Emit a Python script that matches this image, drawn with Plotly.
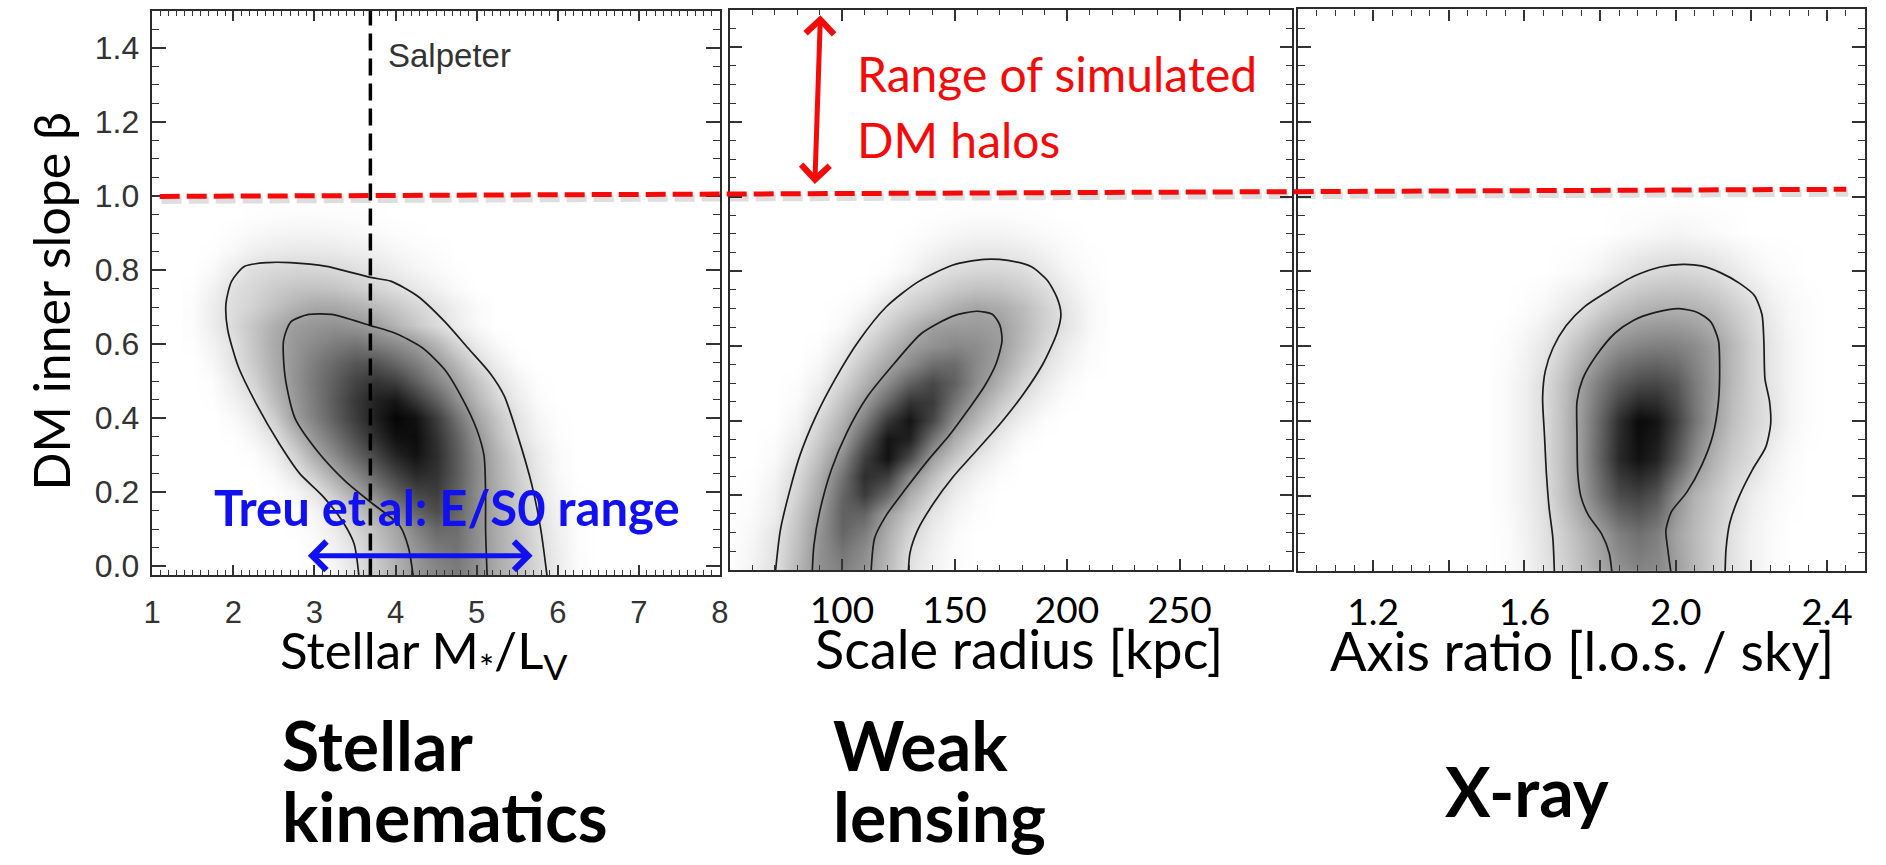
import plotly.graph_objects as go

W, H = 1886, 865

# ---------------- Stellar kinematics panel ----------------
ml_cols = [1.5, 1.75, 2.0, 2.25, 2.5, 2.75, 3.0, 3.25, 3.5, 3.75, 4.0, 4.25,
           4.5, 4.75, 5.0, 5.25, 5.5, 5.75, 6.0, 6.25, 6.5]
fine_rows = [-0.05, 0.0, 0.05, 0.1, 0.15, 0.2, 0.25, 0.3, 0.35, 0.4, 0.45, 0.5,
             0.55, 0.6, 0.65, 0.7, 0.75, 0.8, 0.85, 0.9, 0.95, 1.0]
dens_ml = [
    [0, 0, 0, 0, 0, 0, 0.01, 0.04, 0.11, 0.205, 0.30, 0.40, 0.48, 0.52, 0.44, 0.33, 0.245, 0.155, 0.075, 0.015, 0],
    [0, 0, 0, 0, 0, 0, 0.01, 0.04, 0.11, 0.205, 0.30, 0.40, 0.48, 0.52, 0.44, 0.33, 0.245, 0.155, 0.075, 0.015, 0],
    [0, 0, 0, 0, 0, 0, 0.015, 0.05, 0.12, 0.22, 0.32, 0.42, 0.52, 0.55, 0.44, 0.33, 0.24, 0.145, 0.07, 0.01, 0],
    [0, 0, 0, 0, 0, 0.005, 0.025, 0.077, 0.16, 0.255, 0.35, 0.48, 0.59, 0.57, 0.44, 0.325, 0.23, 0.135, 0.06, 0.01, 0],
    [0, 0, 0, 0, 0, 0.01, 0.04, 0.11, 0.225, 0.345, 0.48, 0.61, 0.70, 0.60, 0.45, 0.32, 0.22, 0.12, 0.05, 0.01, 0],
    [0, 0, 0, 0, 0.005, 0.03, 0.105, 0.22, 0.35, 0.48, 0.62, 0.73, 0.76, 0.62, 0.45, 0.32, 0.205, 0.10, 0.035, 0.005, 0],
    [0, 0, 0, 0, 0.02, 0.10, 0.21, 0.34, 0.47, 0.61, 0.74, 0.84, 0.80, 0.64, 0.46, 0.31, 0.19, 0.09, 0.025, 0, 0],
    [0, 0, 0, 0.01, 0.06, 0.175, 0.33, 0.46, 0.60, 0.73, 0.86, 0.93, 0.82, 0.64, 0.45, 0.30, 0.175, 0.08, 0.02, 0, 0],
    [0, 0, 0.005, 0.04, 0.11, 0.27, 0.42, 0.55, 0.69, 0.82, 0.94, 0.95, 0.80, 0.62, 0.42, 0.26, 0.125, 0.05, 0.01, 0, 0],
    [0, 0, 0.02, 0.08, 0.19, 0.375, 0.50, 0.63, 0.76, 0.88, 0.98, 0.93, 0.76, 0.55, 0.36, 0.225, 0.11, 0.035, 0.005, 0, 0],
    [0, 0.005, 0.05, 0.115, 0.255, 0.40, 0.52, 0.65, 0.77, 0.87, 0.91, 0.78, 0.62, 0.44, 0.29, 0.165, 0.075, 0.015, 0, 0, 0],
    [0, 0.01, 0.08, 0.17, 0.30, 0.42, 0.53, 0.63, 0.73, 0.79, 0.75, 0.62, 0.48, 0.355, 0.23, 0.115, 0.045, 0.005, 0, 0, 0],
    [0, 0.03, 0.11, 0.21, 0.32, 0.415, 0.51, 0.59, 0.66, 0.67, 0.59, 0.50, 0.39, 0.275, 0.145, 0.065, 0.01, 0, 0, 0, 0],
    [0.005, 0.05, 0.12, 0.225, 0.33, 0.405, 0.46, 0.51, 0.54, 0.50, 0.45, 0.39, 0.285, 0.165, 0.075, 0.02, 0, 0, 0, 0, 0],
    [0.01, 0.07, 0.145, 0.23, 0.315, 0.385, 0.41, 0.43, 0.41, 0.38, 0.30, 0.22, 0.14, 0.07, 0.025, 0, 0, 0, 0, 0, 0],
    [0.01, 0.07, 0.135, 0.18, 0.24, 0.30, 0.34, 0.34, 0.31, 0.27, 0.22, 0.165, 0.11, 0.06, 0.02, 0, 0, 0, 0, 0, 0],
    [0.005, 0.05, 0.125, 0.16, 0.20, 0.23, 0.24, 0.23, 0.20, 0.17, 0.13, 0.09, 0.05, 0.02, 0, 0, 0, 0, 0, 0, 0],
    [0, 0.02, 0.08, 0.13, 0.15, 0.16, 0.16, 0.15, 0.125, 0.10, 0.07, 0.04, 0.02, 0.005, 0, 0, 0, 0, 0, 0, 0],
    [0, 0.005, 0.03, 0.06, 0.08, 0.09, 0.09, 0.085, 0.07, 0.055, 0.035, 0.02, 0.01, 0, 0, 0, 0, 0, 0, 0, 0],
    [0, 0, 0.01, 0.025, 0.035, 0.04, 0.04, 0.035, 0.03, 0.02, 0.01, 0.005, 0, 0, 0, 0, 0, 0, 0, 0, 0],
    [0, 0, 0, 0.005, 0.01, 0.015, 0.015, 0.01, 0.01, 0.005, 0, 0, 0, 0, 0, 0, 0, 0, 0, 0, 0],
    [0] * 21,
]
ml_outer_x = [3.55, 3.49, 3.35, 3.10, 2.82, 2.57, 2.28, 2.06, 1.93, 1.91, 1.98, 2.14, 2.42,
              2.70, 3.15, 3.69, 3.94, 4.27, 4.61, 4.89, 5.17, 5.34, 5.51, 5.68, 5.79, 5.87]
ml_outer_y = [-0.03, 0.06, 0.12, 0.19, 0.25, 0.33, 0.44, 0.54, 0.64, 0.71, 0.77, 0.81, 0.82,
              0.82, 0.81, 0.78, 0.77, 0.73, 0.66, 0.59, 0.52, 0.46, 0.35, 0.22, 0.10, -0.03]
ml_inner_x = [4.22, 4.16, 4.05, 3.71, 3.38, 3.04, 2.76, 2.64, 2.62, 2.71, 2.93, 3.21, 3.69,
              3.99, 4.33, 4.61, 4.83, 5.00, 5.09, 5.11, 5.11, 5.13]
ml_inner_y = [-0.03, 0.05, 0.11, 0.17, 0.23, 0.31, 0.40, 0.51, 0.61, 0.66, 0.68, 0.68, 0.65,
              0.63, 0.59, 0.53, 0.45, 0.37, 0.30, 0.20, 0.10, -0.03]
ml_ticks = [1, 2, 3, 4, 5, 6, 7, 8]
salpeter_ml = 3.69
treu_range = [2.90, 5.69]
treu_beta = 0.028

# ---------------- Weak lensing panel ----------------
rs_cols = [50, 60, 70, 80, 90, 100, 110, 120, 130, 140, 150, 160, 170, 180, 190, 200, 210, 220, 230]
dens_rs = [
    [0, 0.05, 0.12, 0.28, 0.43, 0.50, 0.42, 0.27, 0.115, 0.05, 0.01, 0, 0, 0, 0, 0, 0, 0, 0],
    [0, 0.05, 0.12, 0.28, 0.43, 0.50, 0.42, 0.27, 0.115, 0.05, 0.01, 0, 0, 0, 0, 0, 0, 0, 0],
    [0, 0.04, 0.11, 0.26, 0.43, 0.54, 0.45, 0.29, 0.13, 0.055, 0.015, 0, 0, 0, 0, 0, 0, 0, 0],
    [0, 0.03, 0.10, 0.24, 0.42, 0.60, 0.51, 0.32, 0.17, 0.075, 0.02, 0, 0, 0, 0, 0, 0, 0, 0],
    [0, 0.02, 0.07, 0.22, 0.39, 0.62, 0.60, 0.37, 0.23, 0.105, 0.04, 0.01, 0, 0, 0, 0, 0, 0, 0],
    [0, 0.01, 0.06, 0.18, 0.35, 0.60, 0.76, 0.58, 0.32, 0.17, 0.07, 0.02, 0, 0, 0, 0, 0, 0, 0],
    [0, 0.005, 0.04, 0.15, 0.31, 0.55, 0.82, 0.76, 0.45, 0.26, 0.115, 0.05, 0.01, 0, 0, 0, 0, 0, 0],
    [0, 0, 0.02, 0.11, 0.26, 0.46, 0.76, 0.93, 0.70, 0.37, 0.22, 0.10, 0.035, 0, 0, 0, 0, 0, 0],
    [0, 0, 0.01, 0.07, 0.21, 0.36, 0.64, 0.92, 0.87, 0.54, 0.32, 0.18, 0.08, 0.015, 0, 0, 0, 0, 0],
    [0, 0, 0, 0.04, 0.16, 0.30, 0.50, 0.78, 0.92, 0.72, 0.44, 0.28, 0.14, 0.06, 0.01, 0, 0, 0, 0],
    [0, 0, 0, 0.02, 0.10, 0.24, 0.39, 0.60, 0.80, 0.77, 0.54, 0.36, 0.22, 0.11, 0.04, 0.005, 0, 0, 0],
    [0, 0, 0, 0.01, 0.06, 0.17, 0.30, 0.45, 0.62, 0.72, 0.62, 0.44, 0.30, 0.17, 0.08, 0.02, 0, 0, 0],
    [0, 0, 0, 0, 0.03, 0.11, 0.23, 0.35, 0.45, 0.57, 0.58, 0.46, 0.36, 0.23, 0.115, 0.05, 0.01, 0, 0],
    [0, 0, 0, 0, 0.01, 0.07, 0.16, 0.27, 0.375, 0.43, 0.47, 0.45, 0.385, 0.27, 0.155, 0.07, 0.015, 0, 0],
    [0, 0, 0, 0, 0, 0.02, 0.10, 0.19, 0.285, 0.38, 0.395, 0.395, 0.38, 0.284, 0.18, 0.105, 0.03, 0, 0],
    [0, 0, 0, 0, 0, 0.01, 0.04, 0.125, 0.19, 0.25, 0.32, 0.36, 0.33, 0.27, 0.18, 0.10, 0.03, 0, 0],
    [0, 0, 0, 0, 0, 0, 0.01, 0.05, 0.125, 0.17, 0.22, 0.25, 0.24, 0.20, 0.14, 0.07, 0.02, 0, 0],
    [0, 0, 0, 0, 0, 0, 0, 0.01, 0.04, 0.10, 0.14, 0.16, 0.16, 0.14, 0.09, 0.04, 0.01, 0, 0],
    [0, 0, 0, 0, 0, 0, 0, 0, 0.02, 0.05, 0.08, 0.095, 0.095, 0.08, 0.05, 0.02, 0.005, 0, 0],
    [0, 0, 0, 0, 0, 0, 0, 0, 0.005, 0.02, 0.035, 0.045, 0.045, 0.035, 0.02, 0.01, 0, 0, 0],
    [0, 0, 0, 0, 0, 0, 0, 0, 0, 0.005, 0.01, 0.015, 0.015, 0.01, 0.005, 0, 0, 0, 0],
    [0] * 19,
]
rs_outer_x = [70.0, 72.6, 77.0, 81.4, 88.3, 97.0, 107.5, 119.7, 133.6, 149.3, 163.3, 173.7, 184.2,
              191.2, 195.5, 197.3, 195.5, 189.4, 180.7, 170.2, 159.8, 149.3, 140.6, 133.6, 130.2, 129.3]
rs_outer_y = [-0.03, 0.107, 0.218, 0.309, 0.411, 0.512, 0.614, 0.705, 0.771, 0.817, 0.832, 0.829, 0.812,
              0.776, 0.730, 0.685, 0.634, 0.553, 0.472, 0.391, 0.320, 0.249, 0.178, 0.107, 0.046, -0.03]
rs_inner_x = [86.6, 87.5, 90.1, 95.3, 102.3, 111.0, 123.2, 135.4, 149.3, 159.8, 166.8, 170.2, 171.1,
              168.5, 163.3, 156.3, 147.6, 138.9, 128.4, 119.7, 114.5, 112.7]
rs_inner_y = [-0.03, 0.066, 0.157, 0.269, 0.370, 0.462, 0.553, 0.634, 0.680, 0.693, 0.685, 0.655, 0.614,
              0.553, 0.492, 0.431, 0.360, 0.299, 0.218, 0.147, 0.086, -0.03]
rs_ticks = [50, 100, 150, 200, 250, 300]
rs_labels = ["", "100", "150", "200", "250", ""]
halo_arrow_top = (90.4, 1.486)
halo_arrow_bottom = (87.9, 1.03)

# ---------------- X-ray panel ----------------
q_cols = [1.50, 1.55, 1.60, 1.65, 1.70, 1.75, 1.80, 1.85, 1.90, 1.95, 2.00, 2.05, 2.10, 2.15,
          2.20, 2.25, 2.30, 2.35, 2.40, 2.45]
q_rows = [-0.1, 0.0, 0.1, 0.2, 0.3, 0.4, 0.5, 0.6, 0.7, 0.8, 0.9, 1.0]
dens_q = [
    [0, 0.01, 0.04, 0.10, 0.17, 0.25, 0.34, 0.42, 0.48, 0.46, 0.38, 0.28, 0.19, 0.11, 0.05, 0.02, 0, 0, 0, 0],
    [0, 0.01, 0.04, 0.10, 0.17, 0.25, 0.34, 0.42, 0.48, 0.46, 0.38, 0.28, 0.19, 0.11, 0.05, 0.02, 0, 0, 0, 0],
    [0, 0.01, 0.05, 0.11, 0.19, 0.28, 0.38, 0.50, 0.56, 0.50, 0.36, 0.27, 0.19, 0.11, 0.05, 0.02, 0, 0, 0, 0],
    [0, 0.02, 0.06, 0.12, 0.24, 0.38, 0.55, 0.70, 0.74, 0.66, 0.44, 0.30, 0.22, 0.14, 0.07, 0.03, 0.01, 0, 0, 0],
    [0, 0.02, 0.06, 0.13, 0.25, 0.40, 0.62, 0.84, 0.93, 0.86, 0.66, 0.45, 0.30, 0.20, 0.14, 0.06, 0.02, 0, 0, 0],
    [0, 0.02, 0.06, 0.13, 0.25, 0.40, 0.60, 0.82, 0.96, 0.92, 0.75, 0.55, 0.38, 0.25, 0.17, 0.11, 0.04, 0.01, 0, 0],
    [0, 0.02, 0.06, 0.13, 0.24, 0.38, 0.52, 0.64, 0.71, 0.72, 0.66, 0.52, 0.40, 0.27, 0.18, 0.10, 0.04, 0.01, 0, 0],
    [0, 0.01, 0.04, 0.09, 0.17, 0.26, 0.36, 0.44, 0.48, 0.50, 0.49, 0.45, 0.38, 0.28, 0.18, 0.10, 0.04, 0.01, 0, 0],
    [0, 0, 0.01, 0.03, 0.07, 0.12, 0.19, 0.25, 0.29, 0.31, 0.31, 0.30, 0.26, 0.20, 0.14, 0.07, 0.03, 0.01, 0, 0],
    [0, 0, 0, 0, 0.01, 0.02, 0.05, 0.09, 0.13, 0.15, 0.16, 0.15, 0.13, 0.09, 0.05, 0.02, 0.01, 0, 0, 0],
    [0, 0, 0, 0, 0, 0, 0, 0.01, 0.02, 0.03, 0.04, 0.03, 0.02, 0.01, 0, 0, 0, 0, 0, 0],
    [0] * 20,
]
q_outer_x = [1.680, 1.675, 1.665, 1.658, 1.653, 1.648, 1.655, 1.675, 1.710, 1.759, 1.819, 1.889,
             1.959, 2.019, 2.068, 2.118, 2.168, 2.208, 2.228, 2.233, 2.236, 2.248, 2.251, 2.238,
             2.203, 2.168, 2.143, 2.133, 2.130]
q_outer_y = [-0.03, 0.089, 0.170, 0.261, 0.362, 0.463, 0.534, 0.595, 0.655, 0.706, 0.746, 0.787,
             0.812, 0.819, 0.815, 0.797, 0.769, 0.736, 0.685, 0.615, 0.513, 0.453, 0.392, 0.331,
             0.271, 0.200, 0.129, 0.058, -0.03]
q_inner_x = [1.834, 1.824, 1.804, 1.769, 1.749, 1.741, 1.739, 1.739, 1.754, 1.789, 1.839, 1.889,
             1.944, 2.009, 2.059, 2.093, 2.113, 2.116, 2.113, 2.098, 2.068, 2.029, 1.989, 1.974,
             1.979, 1.991]
q_inner_y = [-0.03, 0.048, 0.099, 0.149, 0.200, 0.261, 0.362, 0.453, 0.513, 0.574, 0.635, 0.670,
             0.690, 0.701, 0.690, 0.665, 0.615, 0.554, 0.453, 0.362, 0.281, 0.210, 0.159, 0.109,
             0.058, -0.03]
q_ticks = [1.0, 1.2, 1.4, 1.6, 1.8, 2.0, 2.2, 2.4]
q_labels = ["", "1.2", "", "1.6", "", "2.0", "", "2.4"]


# ---------------- layout helpers (pixel -> paper) ----------------
def px(x):
    return x / W


def py(y):
    return 1 - y / H


GREYS = [[0, "#ffffff"], [1, "#000000"]]
SLIDE_FONT = "Lato, 'Open Sans', sans-serif"
IDL_FONT = "'Liberation Sans', Arial, sans-serif"
LINE_COL = "#1c1c1c"
RED = "#f50a0a"
BLUE = "#1010f0"

fig = go.Figure()

panels = [
    ("x", "y", ml_cols, fine_rows, dens_ml, ml_outer_x, ml_outer_y, ml_inner_x, ml_inner_y),
    ("x2", "y2", rs_cols, fine_rows, dens_rs, rs_outer_x, rs_outer_y, rs_inner_x, rs_inner_y),
    ("x3", "y3", q_cols, q_rows, dens_q, q_outer_x, q_outer_y, q_inner_x, q_inner_y),
]
for xa, ya, cols, rows, dens, ox, oy, ix, iy in panels:
    fig.add_trace(go.Heatmap(x=cols, y=rows, z=dens, zsmooth="best", colorscale=GREYS,
                             zmin=0, zmax=1, showscale=False, hoverinfo="skip",
                             xaxis=xa, yaxis=ya))
    for cx, cy in ((ox, oy), (ix, iy)):
        fig.add_trace(go.Scatter(x=cx, y=cy, mode="lines", xaxis=xa, yaxis=ya,
                                 line=dict(color=LINE_COL, width=1.7, shape="spline", smoothing=0.7),
                                 hoverinfo="skip", showlegend=False))

frame = dict(showline=True, linecolor="#2b2b2b", linewidth=2.2, mirror="ticks", ticks="inside",
             tickcolor="#333333", tickwidth=1.5, showgrid=False, zeroline=False)
minor_style = dict(ticks="inside", tickcolor="#333333", tickwidth=1.2)

fig.update_layout(
    width=W, height=H, margin=dict(l=0, r=0, t=0, b=0),
    paper_bgcolor="white", plot_bgcolor="white", showlegend=False,
    xaxis=dict(frame, domain=[px(145), px(718.5)], range=[0.995, 8.005], anchor="y",
               tickmode="array", tickvals=ml_ticks, ticklen=10,
               minor=dict(minor_style, ticklen=5, dtick=0.1, tick0=1),
               tickfont=dict(family=IDL_FONT, size=31, color="#333333"), ticklabelstandoff=8),
    yaxis=dict(frame, domain=[py(581.5), py(11)], range=[-0.025, 1.5], anchor="x",
               tick0=0, dtick=0.2, tickformat=".1f", ticklen=14,
               minor=dict(minor_style, ticklen=7, dtick=0.05, tick0=0),
               tickfont=dict(family=IDL_FONT, size=32, color="#333333"), ticklabelstandoff=4),
    xaxis2=dict(frame, domain=[px(727.7), px(1295)], range=[50, 300], anchor="y2",
                tickmode="array", tickvals=rs_ticks, ticktext=rs_labels, ticklen=11,
                minor=dict(minor_style, ticklen=5, dtick=10, tick0=50),
                tickfont=dict(family=SLIDE_FONT, size=37, color="black"), ticklabelstandoff=6),
    yaxis2=dict(frame, domain=[py(576), py(10)], range=[0, 1.5], anchor="x2",
                tick0=0, dtick=0.2, showticklabels=False, ticklen=12,
                minor=dict(minor_style, ticklen=6, dtick=0.05, tick0=0)),
    xaxis3=dict(frame, domain=[px(1300.6), px(1872.7)], range=[1.0, 2.5], anchor="y3",
                tickmode="array", tickvals=q_ticks, ticktext=q_labels, ticklen=11,
                minor=dict(minor_style, ticklen=6, dtick=0.05, tick0=1.0),
                tickfont=dict(family=SLIDE_FONT, size=37, color="black"), ticklabelstandoff=8),
    yaxis3=dict(frame, domain=[py(577), py(9.5)], range=[0, 1.5], anchor="x3",
                tick0=0, dtick=0.2, showticklabels=False, ticklen=13,
                minor=dict(minor_style, ticklen=7, dtick=0.05, tick0=0)),
)

# Salpeter IMF reference line
fig.add_shape(type="line", xref="x", yref="y domain", x0=salpeter_ml, x1=salpeter_ml, y0=0, y1=1,
              line=dict(color="black", width=3.5, dash="17px,8px"))

# beta = 1 line of simulated haloes, drawn across all three panels (with soft shadow)
halo_left, halo_right = (153, 198.5), (1854, 191.3)
fig.add_shape(type="line", xref="paper", yref="paper",
              x0=px(halo_left[0] + 2), y0=py(halo_left[1] + 4), x1=px(halo_right[0] + 2), y1=py(halo_right[1] + 4),
              line=dict(color="rgba(0,0,0,0.13)", width=7, dash="20px,7px"))
fig.add_shape(type="line", xref="paper", yref="paper",
              x0=px(halo_left[0]), y0=py(halo_left[1]), x1=px(halo_right[0]), y1=py(halo_right[1]),
              line=dict(color=RED, width=5, dash="20px,7px"))

# double-headed arrows
arrow_style = dict(text="", showarrow=True, arrowhead=4, startarrowhead=4, arrowside="end+start",
                   arrowwidth=5, arrowsize=1.1, startarrowsize=1.1)
fig.add_annotation(x=halo_arrow_top[0], y=halo_arrow_top[1], ax=halo_arrow_bottom[0], ay=halo_arrow_bottom[1],
                   xref="x2", yref="y2", axref="x2", ayref="y2", arrowcolor=RED, **arrow_style)
fig.add_annotation(x=treu_range[1], y=treu_beta, ax=treu_range[0], ay=treu_beta,
                   xref="x", yref="y", axref="x", ayref="y", arrowcolor=BLUE, **arrow_style)


def label(text, x, y, size, color="black", family=SLIDE_FONT, weight="normal", xanchor="left", angle=0):
    fig.add_annotation(text=text, x=px(x), y=py(y), xref="paper", yref="paper", showarrow=False,
                       xanchor=xanchor, yanchor="middle", textangle=angle,
                       font=dict(family=family, size=size, color=color, weight=weight))


label("Salpeter", 381, 56, 33, color="#333333", family=IDL_FONT)
label("Range of simulated", 854, 74, 48, color=RED)
label("DM halos", 854, 141, 48, color=RED)
label("Treu et al: E/S0 range", 206, 512, 49, color=BLUE, weight="bold")

label("DM inner slope β", 43, 305, 50, xanchor="center", angle=-90)
label("Stellar M<sub>*</sub>/L<sub>V</sub>", 272, 660, 51)
label("Scale radius [kpc]", 812, 655, 54)
label("Axis ratio [l.o.s. / sky]", 1331, 657, 54)

label("Stellar", 274, 752, 68, weight="bold")
label("kinematics", 274, 824, 68, weight="bold")
label("Weak", 830, 752, 68, weight="bold")
label("lensing", 830, 824, 68, weight="bold")
label("X-ray", 1447, 799, 68, weight="bold")

fig.write_html("out.html")
